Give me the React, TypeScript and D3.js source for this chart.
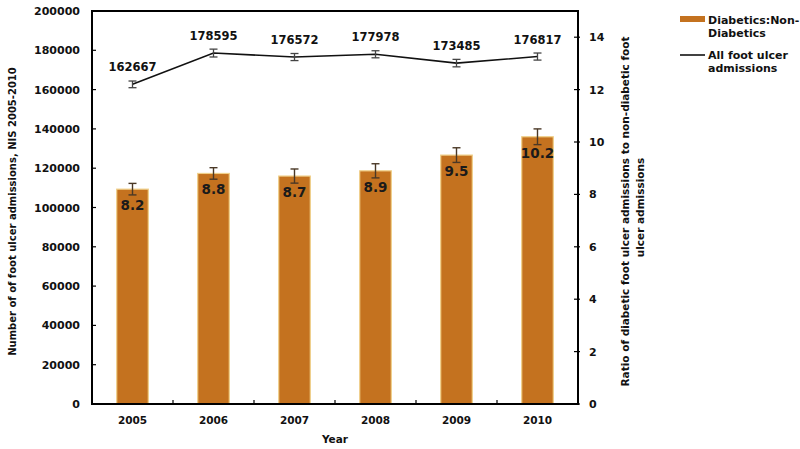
import React from "react";
import * as d3 from "d3";

const years = ["2005", "2006", "2007", "2008", "2009", "2010"];
const ratioValues = [8.2, 8.8, 8.7, 8.9, 9.5, 10.2];
const ratioErrors = [0.22, 0.22, 0.27, 0.27, 0.28, 0.3];
const admissions = [162667, 178595, 176572, 177978, 173485, 176817];
const admissionErrors = [1700, 2000, 1800, 1800, 1900, 1800];
const leftTicks = [0, 20000, 40000, 60000, 80000, 100000, 120000, 140000, 160000, 180000, 200000];
const rightTicks = [0, 2, 4, 6, 8, 10, 12, 14];

const W = 800;
const H = 449;
const left = 92;
const right = 578;
const top = 11;
const bottom = 404;
const FONT = "'DejaVu Sans', Verdana, sans-serif";
const BAR = "#C4721F";
const BAR_EDGE = "#F0D08A";

export default function App() {
  const x = d3.scaleBand<string>().domain(years).range([left, right]).paddingInner(0).paddingOuter(0);
  const yL = d3.scaleLinear().domain([0, 200000]).range([bottom, top]);
  const yR = d3.scaleLinear().domain([0, 15]).range([bottom, top]);
  const bw = x.bandwidth() * 0.39;
  const cx = (y: string) => (x(y) as number) + x.bandwidth() / 2;
  const line = d3
    .line<number>()
    .x((_, i) => cx(years[i]))
    .y((d) => yL(d));

  return (
    <svg
      width={W}
      height={H}
      style={{ position: "absolute", left: 0, top: 0, background: "#fff" }}
      fontFamily={FONT}
      fontWeight="bold"
    >
      <rect x={0} y={0} width={W} height={H} fill="#fff" />
      {/* bars */}
      {years.map((y, i) => {
        const yt = yR(ratioValues[i]);
        return (
          <g key={"b" + y}>
            <rect
              x={cx(y) - bw / 2}
              y={yt}
              width={bw}
              height={bottom - yt}
              fill={BAR}
              stroke={BAR_EDGE}
              strokeWidth={1.2}
            />
            <g stroke="#4a3826" strokeWidth={1.4}>
              <line x1={cx(y)} x2={cx(y)} y1={yR(ratioValues[i] + ratioErrors[i])} y2={yR(ratioValues[i] - ratioErrors[i])} />
              <line x1={cx(y) - 4} x2={cx(y) + 4} y1={yR(ratioValues[i] + ratioErrors[i])} y2={yR(ratioValues[i] + ratioErrors[i])} />
              <line x1={cx(y) - 4} x2={cx(y) + 4} y1={yR(ratioValues[i] - ratioErrors[i])} y2={yR(ratioValues[i] - ratioErrors[i])} />
            </g>
            <text x={cx(y)} y={yt + 21} textAnchor="middle" fontSize={13.5} fill="#1a1a1a">
              {ratioValues[i].toFixed(1)}
            </text>
          </g>
        );
      })}
      {/* line */}
      <path d={line(admissions) as string} fill="none" stroke="#111" strokeWidth={1.6} />
      {years.map((y, i) => {
        const py = yL(admissions[i]);
        const e1 = yL(admissions[i] + admissionErrors[i]);
        const e2 = yL(admissions[i] - admissionErrors[i]);
        return (
          <g key={"l" + y}>
            <g stroke="#444" strokeWidth={1.3}>
              <line x1={cx(y)} x2={cx(y)} y1={e1} y2={e2} />
              <line x1={cx(y) - 4} x2={cx(y) + 4} y1={e1} y2={e1} />
              <line x1={cx(y) - 4} x2={cx(y) + 4} y1={e2} y2={e2} />
            </g>
            <text x={cx(y)} y={py - 13} textAnchor="middle" fontSize={11.5} fill="#111">
              {admissions[i]}
            </text>
          </g>
        );
      })}
      {/* frame */}
      <rect x={left} y={top} width={right - left} height={bottom - top} fill="none" stroke="#000" strokeWidth={2} />
      {/* left ticks */}
      {leftTicks.map((t) => (
        <g key={"lt" + t}>
          <line x1={left} x2={left + 4} y1={yL(t)} y2={yL(t)} stroke="#000" strokeWidth={1.2} />
          <text x={80} y={yL(t) + 4} textAnchor="end" fontSize={11} fill="#111">
            {t}
          </text>
        </g>
      ))}
      {/* right ticks */}
      {rightTicks.map((t) => (
        <g key={"rt" + t}>
          <line x1={right - 4} x2={right + 2} y1={yR(t)} y2={yR(t)} stroke="#000" strokeWidth={1.2} />
          <text x={589} y={yR(t) + 4} textAnchor="start" fontSize={11} fill="#111">
            {t}
          </text>
        </g>
      ))}
      {/* bottom ticks at category boundaries */}
      {years.slice(1).map((y) => (
        <line key={"bt" + y} x1={x(y) as number} x2={x(y) as number} y1={bottom} y2={bottom - 4} stroke="#000" strokeWidth={1.2} />
      ))}
      {years.map((y) => (
        <text key={"yl" + y} x={cx(y)} y={424} textAnchor="middle" fontSize={10.5} fill="#111">
          {y}
        </text>
      ))}
      <text x={(left + right) / 2} y={443} textAnchor="middle" fontSize={10.5} fill="#111">
        Year
      </text>
      {/* axis titles */}
      <text
        transform={`translate(16, ${(top + bottom) / 2 + 4}) rotate(-90)`}
        textAnchor="middle"
        fontSize={10}
        fill="#111"
      >
        Number of of foot ulcer admissions, NIS 2005-2010
      </text>
      <text
        transform={`translate(629, ${(top + bottom) / 2 + 4}) rotate(-90)`}
        textAnchor="middle"
        fontSize={10.5}
        fill="#111"
      >
        Ratio of diabetic foot ulcer admissions to non-diabetic foot
      </text>
      <text
        transform={`translate(644, ${(top + bottom) / 2}) rotate(-90)`}
        textAnchor="middle"
        fontSize={10.5}
        fill="#111"
      >
        ulcer admissions
      </text>
      {/* legend */}
      <rect x={680} y={16} width={25} height={6} fill={BAR} />
      <text x={708} y={24} fontSize={11} fill="#111">Diabetics:Non-</text>
      <text x={708} y={37} fontSize={11} fill="#111">Diabetics</text>
      <line x1={680} x2={705} y1={55} y2={55} stroke="#111" strokeWidth={1.6} />
      <text x={708} y={59} fontSize={11} fill="#111">All foot ulcer</text>
      <text x={708} y={72} fontSize={11} fill="#111">admissions</text>
    </svg>
  );
}
